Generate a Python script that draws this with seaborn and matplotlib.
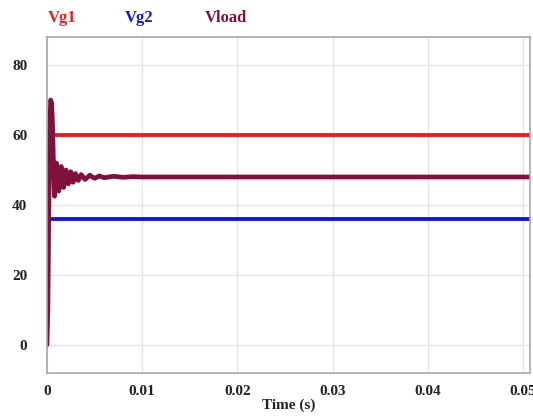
import numpy as np
import pandas as pd
import matplotlib
matplotlib.use("Agg")
import matplotlib.pyplot as plt
import seaborn as sns

# Data
t_src = [0.0, 0.0507]
vg1 = [60.0, 60.0]
vg2 = [36.0, 36.0]
t_load = [0.0, 0.0001, 0.0002, 0.0003, 0.0004, 0.0005, 0.0006, 0.0007, 0.0008,
          0.0010, 0.00125, 0.0015, 0.00175, 0.0020, 0.00225, 0.0025, 0.00275,
          0.0030, 0.0033, 0.0036, 0.0040, 0.0045, 0.0050, 0.0055, 0.0060,
          0.0070, 0.0080, 0.0090, 0.0100, 0.0200, 0.0300, 0.0400, 0.0507]
v_load = [0.0, 10.0, 40.0, 62.0, 70.0, 69.0, 62.0, 50.0, 42.5,
          52.0, 44.0, 51.0, 45.0, 50.0, 46.0, 49.5, 46.5,
          49.0, 47.0, 48.7, 47.3, 48.5, 47.6, 48.3, 47.8,
          48.2, 47.9, 48.1, 48.0, 48.0, 48.0, 48.0, 48.0]
xticks = [0, 0.01, 0.02, 0.03, 0.04, 0.05]
xtick_labels = ["0", "0.01", "0.02", "0.03", "0.04", "0.05"]
yticks = [0, 20, 40, 60, 80]

c_vg1 = "#f01818"
c_vg2 = "#1414e0"
c_load = "#80103c"

sns.set_theme(style="whitegrid")
plt.rcParams["font.family"] = ["Liberation Serif", "DejaVu Serif"]

fig = plt.figure(figsize=(5.33, 4.17), dpi=100)
ax = fig.add_axes([0.088, 0.106, 0.906, 0.805])

src = pd.DataFrame({"t": t_src, "Vg1": vg1, "Vg2": vg2})
load = pd.DataFrame({"t": t_load, "Vload": v_load})

sns.lineplot(data=src, x="t", y="Vg1", color=c_vg1, lw=2.8, ax=ax)
sns.lineplot(data=src, x="t", y="Vg2", color=c_vg2, lw=2.8, ax=ax)
sns.lineplot(data=load, x="t", y="Vload", color=c_load, lw=3.4, ax=ax)

ax.set_xlim(0, 0.0507)
ax.set_ylim(-8, 88)
ax.set_xticks(xticks)
ax.set_xticklabels(xtick_labels)
ax.set_yticks(yticks)
ax.tick_params(axis="both", labelsize=11, length=0)
ax.tick_params(axis="x", pad=9)
ax.tick_params(axis="y", pad=14)
for lab in ax.get_xticklabels() + ax.get_yticklabels():
    lab.set_fontweight("bold")
    lab.set_color("#222222")
ax.set_xlabel("Time (s)", fontsize=11, fontweight="bold", labelpad=0, color="#222222")
ax.set_ylabel("")
ax.grid(True, color="#e4e4e4", lw=0.9)
for s in ax.spines.values():
    s.set_visible(True)
    s.set_color("#a8a8a8")
    s.set_linewidth(1.2)

fig.text(48 / 533, 1 - 18 / 417, "Vg1", color=c_vg1, fontsize=12, fontweight="bold", va="center")
fig.text(125 / 533, 1 - 18 / 417, "Vg2", color=c_vg2, fontsize=12, fontweight="bold", va="center")
fig.text(205 / 533, 1 - 18 / 417, "Vload", color=c_load, fontsize=12, fontweight="bold", va="center")

fig.savefig("out.png", dpi=100)
